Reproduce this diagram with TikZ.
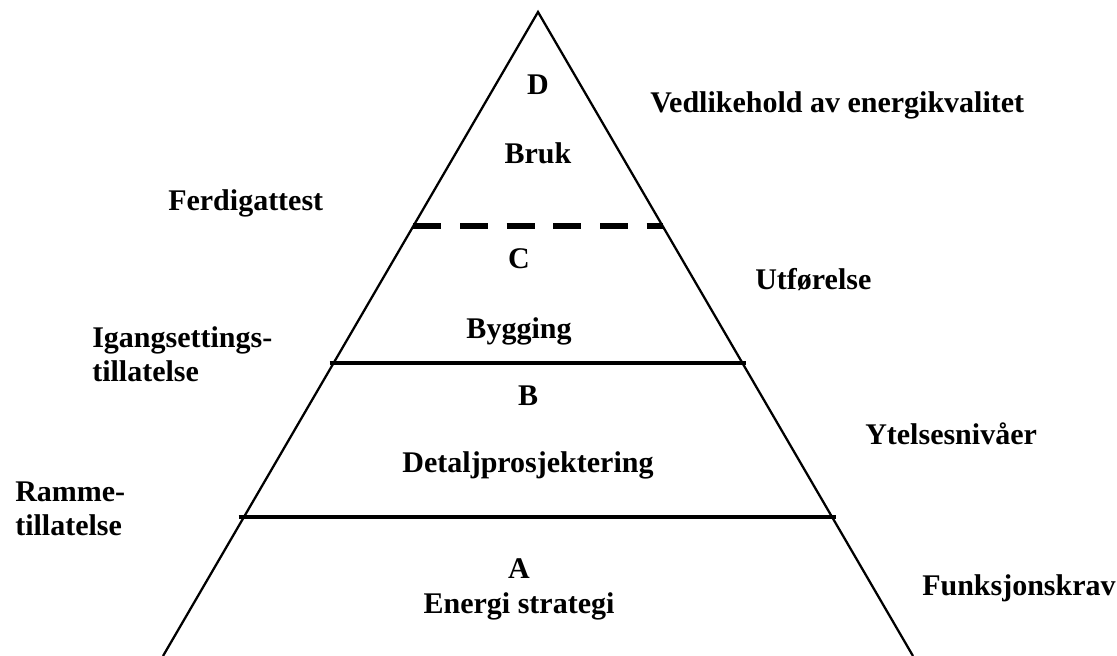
\documentclass[tikz,border=0pt]{standalone}
\usepackage{fontspec}
\setmainfont{Liberation Serif}
\usetikzlibrary{calc}

\tikzset{
  lbl/.style={font=\fontsize{22.5}{25.5}\selectfont\bfseries, inner sep=0pt, anchor=base},
  sidelbl/.style={lbl, anchor=base west, align=left},
  edge/.style={line width=1.7pt},
  level/.style={line width=3.2pt},
  dashlevel/.style={line width=5pt, dash pattern=on 21pt off 14pt}
}

\begin{document}
\begin{tikzpicture}[x=0.75pt,y=-0.75pt]
\useasboundingbox (0,0) rectangle (1117,656);

\coordinate (top) at (538,12);
\coordinate (bl) at (163,656);
\coordinate (br) at (913,656);

\coordinate (dl) at ($(top)!0.3323!(bl)$);
\coordinate (dr) at ($(top)!0.3323!(br)$);
\coordinate (cl) at ($(top)!0.545!(bl)$);
\coordinate (cr) at ($(top)!0.545!(br)$);
\coordinate (bbl) at ($(top)!0.784!(bl)$);
\coordinate (bbr) at ($(top)!0.784!(br)$);

\draw[edge] (bl) -- (top) -- (br);
\draw[dashlevel] (dl) -- (dr);
\draw[level, shorten <=-3pt, shorten >=-3pt] (cl) -- (cr);
\draw[level, shorten <=-4pt, shorten >=-3pt] (bbl) -- (bbr);

\node[lbl] (d) at (538,95) {D};
\node[lbl] (bruk) at (538,164) {Bruk};
\node[lbl] (c) at (519,268) {C};
\node[lbl] (bygging) at (519,338) {Bygging};
\node[lbl] (b) at (528,405) {B};
\node[lbl] (detalj) at (528,472) {Detaljprosjektering};
\node[lbl] (a) at (519,578) {A};
\node[lbl] (strategi) at (519,613) {Energi strategi};

\node[sidelbl] (vedlikehold) at (650,113) {Vedlikehold av energikvalitet};
\node[sidelbl] (ferdig) at (168,210) {Ferdigattest};
\node[sidelbl] (utforelse) at (755,289) {Utførelse};
\node[sidelbl] (igang) at (92,381) {Igangsettings-\\tillatelse};
\node[sidelbl] (ytelse) at (865,444) {Ytelsesnivåer};
\node[sidelbl] (ramme) at (15,535) {Ramme-\\tillatelse};
\node[sidelbl] (funksjon) at (922,595) {Funksjonskrav};
\end{tikzpicture}
\end{document}
